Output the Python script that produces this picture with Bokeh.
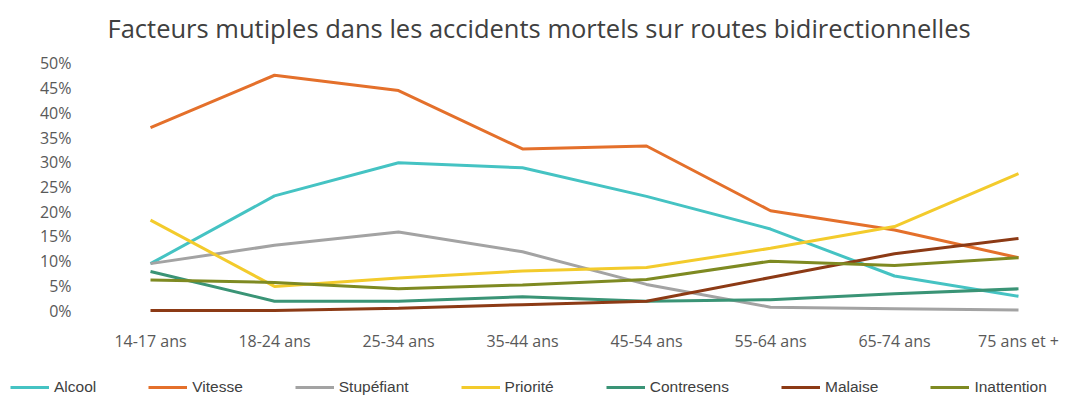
from bokeh.plotting import figure
from bokeh.models import Range1d, FixedTicker, PrintfTickFormatter, Legend, LegendItem
from bokeh.embed import file_html
from bokeh.resources import INLINE

categories = ["14-17 ans", "18-24 ans", "25-34 ans", "35-44 ans",
              "45-54 ans", "55-64 ans", "65-74 ans", "75 ans et +"]
alcool = [9.5, 23.2, 29.9, 28.9, 23.1, 16.5, 7.0, 2.9]
vitesse = [37.0, 47.6, 44.5, 32.7, 33.3, 20.2, 16.3, 10.7]
stupefiant = [9.5, 13.2, 15.9, 11.9, 5.3, 0.7, 0.4, 0.1]
priorite = [18.3, 4.9, 6.6, 8.0, 8.7, 12.6, 17.0, 27.7]
contresens = [7.9, 1.9, 1.9, 2.8, 1.9, 2.2, 3.4, 4.4]
malaise = [0.0, 0.0, 0.5, 1.2, 1.9, 6.7, 11.5, 14.6]
inattention = [6.2, 5.7, 4.4, 5.2, 6.3, 10.0, 9.1, 10.7]
y_ticks = [0, 5, 10, 15, 20, 25, 30, 35, 40, 45, 50]

series = [
    ("Alcool", alcool, "#45C3C3"),
    ("Vitesse", vitesse, "#E4702B"),
    ("Stupéfiant", stupefiant, "#A3A3A3"),
    ("Priorité", priorite, "#F3CB2C"),
    ("Contresens", contresens, "#3A9476"),
    ("Malaise", malaise, "#8C3A15"),
    ("Inattention", inattention, "#7E8A22"),
]

xs = list(range(len(categories)))

p = figure(width=1076, height=355, output_backend="svg", toolbar_location=None,
           x_range=Range1d(-0.4839, 7.4516), y_range=Range1d(-2, 52),
           min_border_left=90, min_border_right=2, min_border_top=50,
           min_border_bottom=35,
           title="Facteurs mutiples dans les accidents mortels sur routes bidirectionnelles")

p.title.text_font = "Open Sans"
p.title.text_font_size = "25.5px"
p.title.text_font_style = "normal"
p.title.text_color = "#404040"
p.title.align = "left"
p.title.offset = 17
p.title.standoff = 17

p.outline_line_color = None
p.xgrid.grid_line_color = None
p.ygrid.grid_line_color = None
p.background_fill_color = "white"
p.border_fill_color = "white"

p.xaxis.ticker = FixedTicker(ticks=xs)
p.xaxis.major_label_overrides = {i: c for i, c in enumerate(categories)}
p.yaxis.ticker = FixedTicker(ticks=y_ticks)
p.yaxis.formatter = PrintfTickFormatter(format="%d%%")

for ax in (p.xaxis[0], p.yaxis[0]):
    ax.axis_line_color = None
    ax.major_tick_line_color = None
    ax.minor_tick_line_color = None
    ax.major_tick_out = 0
    ax.major_tick_in = 0
    ax.major_label_text_font = "Open Sans"
    ax.major_label_text_font_size = "16px"
    ax.major_label_text_color = "#595959"
p.yaxis.major_label_standoff = 19
p.xaxis.major_label_standoff = 9

for name, vals, color in series:
    p.line(xs, vals, line_color=color, line_width=3)

# Legend strip below the chart (separate root, so its frame spans the full width)
pl = figure(width=1076, height=50, output_backend="svg", toolbar_location=None,
            x_range=Range1d(0, 1), y_range=Range1d(0, 1),
            x_axis_type=None, y_axis_type=None,
            min_border_left=0, min_border_right=0, min_border_top=0, min_border_bottom=0)
pl.outline_line_color = None
pl.xgrid.grid_line_color = None
pl.ygrid.grid_line_color = None
pl.border_fill_color = "white"

items = []
for name, vals, color in series:
    r = pl.line(xs, vals, line_color=color, line_width=3, visible=False)
    items.append(LegendItem(label=name, renderers=[r]))

legend = Legend(items=items, orientation="horizontal", location=(10, 8),
                spacing=52, glyph_width=39, label_standoff=5, padding=0, margin=0,
                border_line_color=None, background_fill_alpha=0,
                label_text_font="Liberation Sans", label_text_font_size="15.5px",
                label_text_color="#404040")
pl.add_layout(legend, "center")

open("out.html", "w").write(file_html([p, pl], INLINE))
